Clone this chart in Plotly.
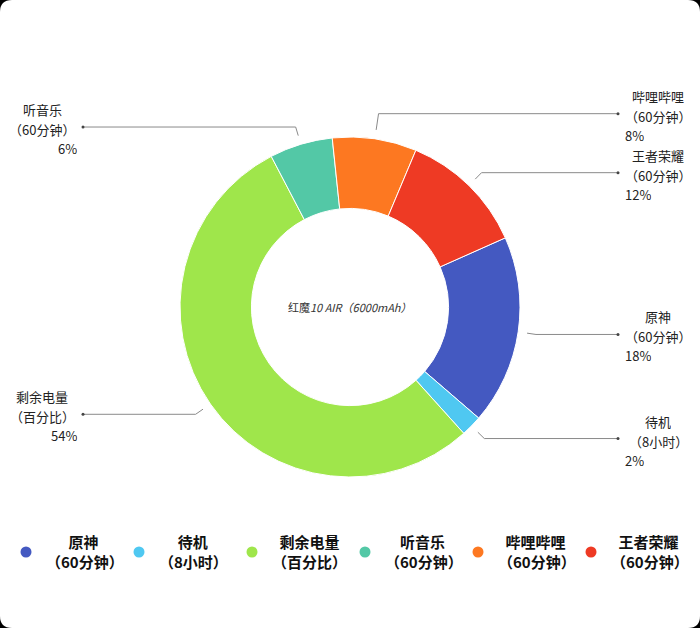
import math
import plotly.graph_objects as go

# ---------------- data ----------------
categories = ["原神", "待机", "剩余电量", "听音乐", "哔哩哔哩", "王者荣耀"]
subtitles = ["（60分钟）", "（8小时）", "（百分比）", "（60分钟）", "（60分钟）", "（60分钟）"]
values = [18, 2, 54, 6, 8, 12]
colors = ["#4459c1", "#4fc8f1", "#9fe64b", "#53c8a6", "#fd7821", "#ee3a24"]
center_title = "红魔<i>10 AIR（6000mAh）</i>"

# ---------------- layout constants ----------------
W, H = 700, 628
CX, CY, R = 350, 307, 170
HOLE = 0.58
ROT = 66            # first slice starts 66 deg clockwise from 12 o'clock
FONT = "Noto Sans CJK SC"
LINE_COLOR = "#8a8a8a"
TEXT_COLOR = "#222222"
LBL_FS = 13

fig = go.Figure()

# white rounded card on black background (pixel coordinates on hidden axes)
rc = 12
card_path = (f"M {rc},0 H {W-rc} Q {W},0 {W},{rc} V {H-rc} Q {W},{H} {W-rc},{H} "
             f"H {rc} Q 0,{H} 0,{H-rc} V {rc} Q 0,0 {rc},0 Z")
fig.add_shape(type="path", path=card_path, xref="x", yref="y",
              fillcolor="white", line=dict(width=0), layer="below")

# donut
fig.add_trace(go.Pie(
    labels=categories, values=values, sort=False, direction="clockwise",
    rotation=ROT, hole=HOLE, textinfo="none", showlegend=False,
    marker=dict(colors=colors, line=dict(color="white", width=1)),
    domain=dict(x=[(CX - R) / W, (CX + R) / W], y=[1 - (CY + R) / H, 1 - (CY - R) / H]),
    hovertemplate="%{label}%{customdata}: %{percent}<extra></extra>",
    customdata=subtitles,
))

# ---------------- outside labels with leader lines ----------------
total = float(sum(values))
info = []
acc = 0.0
for i, v in enumerate(values):
    mid_cw = ROT + (acc + v / 2.0) / total * 360.0
    acc += v
    th = math.radians(90.0 - mid_cw)
    side = "right" if math.cos(th) >= 0 else "left"
    y_nat = CY - (R + 18) * math.sin(th)
    info.append(dict(i=i, th=th, side=side, y=y_nat))

GAP = 59
for side in ("left", "right"):
    items = sorted([d for d in info if d["side"] == side], key=lambda d: d["y"])
    for k in range(len(items) - 2, -1, -1):
        items[k]["y"] = min(items[k]["y"], items[k + 1]["y"] - GAP)


def label_ann(x, y, text, anchor):
    fig.add_annotation(x=x, y=y, text=text, showarrow=False,
                       xanchor=anchor, yanchor="middle", xref="x", yref="y",
                       height=16, borderpad=0,
                       font=dict(family=FONT, size=LBL_FS, color=TEXT_COLOR))


for d in info:
    i, th, y = d["i"], d["th"], d["y"]
    c, s = math.cos(th), math.sin(th)
    r0 = R + 9
    x0, y0 = CX + r0 * c, CY - r0 * s
    re = (CY - y) / s if abs(s) > 1e-6 else r0
    re = max(re, r0)
    x1 = CX + re * c
    if d["side"] == "right":
        xe, xname, xpct, anc = 618, 658, 624, "left"
    else:
        xe, xname, xpct, anc = 83, 42, 78, "right"
    fig.add_trace(go.Scatter(
        x=[x0, x1, xe], y=[y0, y, y], mode="lines",
        line=dict(color=LINE_COLOR, width=1), hoverinfo="skip", showlegend=False))
    fig.add_trace(go.Scatter(
        x=[xe], y=[y], mode="markers", marker=dict(color="#444", size=3),
        hoverinfo="skip", showlegend=False))
    pct = f"{values[i] / total * 100:.0f}%"
    label_ann(xname, y - 18, categories[i], "center")
    label_ann(xname, y + 2, subtitles[i], "center")
    label_ann(xpct, y + 21, pct, anc)

# center title
fig.add_annotation(x=CX, y=CY, text=center_title, showarrow=False, xref="x", yref="y",
                   font=dict(family=FONT, size=11, color="#333"))

# ---------------- legend (circle markers) ----------------
LEG_FS = 15


def text_w(t, fs):
    w = 0.0
    for ch in t:
        if ord(ch) > 0x2E80 or ch in "（）":
            w += fs
        elif ch.isdigit():
            w += 0.58 * fs
        else:
            w += 0.55 * fs
    return w


def pad(t, width, fs):
    p = (width - text_w(t, fs)) / 2.0
    out = ""
    while p >= fs * 0.95:
        out += "\u3000"
        p -= fs
    while p >= fs * 0.22:
        out += "\u2005"
        p -= fs * 0.25
    return out + t


for name, sub, col in zip(categories, subtitles, colors):
    wmax = max(text_w(name, LEG_FS), text_w(sub, LEG_FS))
    label = pad(name, wmax, LEG_FS) + "<br>" + pad(sub, wmax, LEG_FS)
    fig.add_trace(go.Scatter(
        x=[None], y=[None], mode="markers", name=label,
        marker=dict(color=col, size=11, symbol="circle"), showlegend=True))

fig.update_layout(
    width=W, height=H,
    margin=dict(l=0, r=0, t=0, b=0),
    paper_bgcolor="black", plot_bgcolor="rgba(0,0,0,0)",
    xaxis=dict(range=[0, W], visible=False, fixedrange=True, domain=[0, 1]),
    yaxis=dict(range=[H, 0], visible=False, fixedrange=True, domain=[0, 1]),
    showlegend=True,
    legend=dict(orientation="h", x=6 / W, xanchor="left", y=1 - 526 / H, yanchor="top",
                font=dict(family=FONT, size=LEG_FS, color="#111", weight="bold"),
                bgcolor="rgba(0,0,0,0)", itemclick=False, itemdoubleclick=False,
                entrywidth=68, entrywidthmode="pixels", valign="middle"),
    font=dict(family=FONT),
)

fig.write_html("out.html", config={"displayModeBar": False},
               post_script="document.body.style.margin='0px';")
